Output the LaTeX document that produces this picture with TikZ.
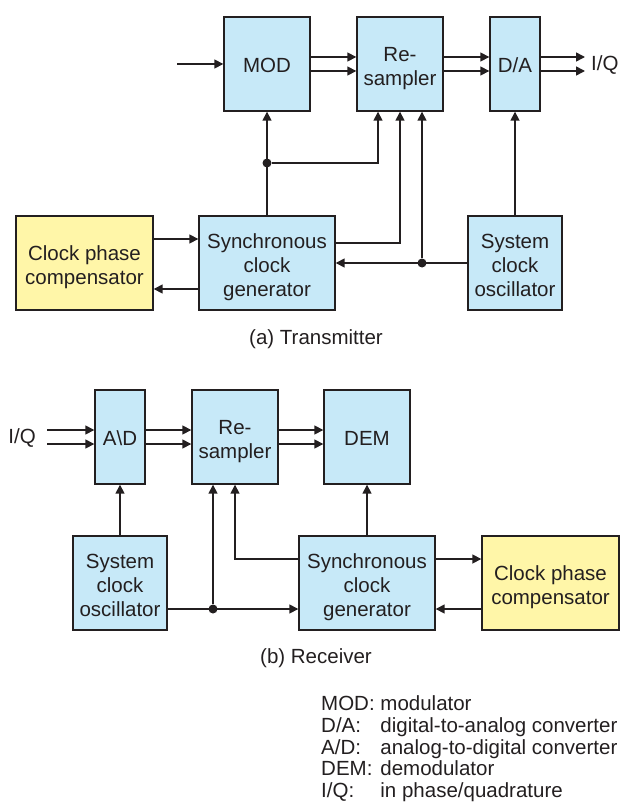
\documentclass[tikz,border=0pt]{standalone}
\usepackage{fontspec}
\setmainfont{Liberation Sans}
\usetikzlibrary{arrows.meta}
\definecolor{boxblue}{RGB}{199,233,248}
\definecolor{boxyellow}{RGB}{255,246,168}
\definecolor{ink}{RGB}{35,31,32}

\begin{document}
\begin{tikzpicture}[x=1pt,y=-1pt,
  every node/.style={font=\fontsize{20.5}{24}\selectfont, text=ink},
  blk/.style={draw=ink, line width=1.4pt, fill=boxblue, minimum height=94pt, inner sep=0pt, align=center},
  cpc/.style={blk, fill=boxyellow, minimum width=137pt},
  one/.style={text height=17.7pt, text depth=0pt},
  two/.style={text height=42.3pt, text depth=0pt},
  three/.style={text height=67.1pt, text depth=0pt},
  arr/.style={-{Triangle[length=9pt,width=9pt]}, line width=1.6pt, draw=ink},
  junc/.style={circle, fill=ink, inner sep=0pt, minimum size=9pt}]

\useasboundingbox (0,0) rectangle (621,802);

% (a) Transmitter: upper row
\node[blk, one, minimum width=86pt] (mod) at (267,64) {MOD};
\node[blk, two, minimum width=86pt] (rsT) at (400,64) {Re-\\sampler};
\node[blk, one, minimum width=50pt] (da) at (515,64) {D/A};

% lower row
\node[cpc, two] (cpcT) at (84.5,263) {Clock phase\\compensator};
\node[blk, three, minimum width=136pt] (scgT) at (267,263) {Synchronous\\clock\\generator};
\node[blk, three, minimum width=94pt] (oscT) at (515,263) {System\\clock\\oscillator};

% signal path
\coordinate (inT) at (177,64);
\coordinate (outT) at (585,64);
\draw[arr] (inT) -- (mod.west);
\foreach \s in {7,-7} {
  \draw[arr] ([yshift=\s pt]mod.east) -- ([yshift=\s pt]rsT.west);
  \draw[arr] ([yshift=\s pt]rsT.east) -- ([yshift=\s pt]da.west);
  \draw[arr] ([yshift=\s pt]da.east) -- ([yshift=\s pt]outT);
}
\node[anchor=west, inner sep=0pt] (iqT) at (591,65) {I/Q};

% clock lines
\node[junc] (jT1) at (267,163) {};
\node[junc] (jT2) at (422,263) {};
\draw[arr] (scgT) -- (mod);
\draw[arr] (jT1) -| ([xshift=-22pt]rsT.south);
\draw[arr] ([yshift=20pt]scgT.east) -| (rsT.south);
\draw[arr] (oscT) -- (scgT);
\draw[arr] (jT2) -- (jT2 |- rsT.south);
\draw[arr] (oscT) -- (da);
\draw[arr] ([yshift=24pt]cpcT.east) -- ([yshift=24pt]scgT.west);
\draw[arr] ([yshift=-26pt]scgT.west) -- ([yshift=-26pt]cpcT.east);

\node (capA) at (316,339) {(a) Transmitter};

% (b) Receiver: upper row
\node[blk, one, minimum width=50pt] (adc) at (120,437) {A\textbackslash D};
\node[blk, two, minimum width=86pt] (rsR) at (235,437) {Re-\\sampler};
\node[blk, one, minimum width=86pt] (dem) at (367,437) {DEM};

% lower row
\node[blk, three, minimum width=94pt] (oscR) at (120,583) {System\\clock\\oscillator};
\node[blk, three, minimum width=136pt] (scgR) at (367,583) {Synchronous\\clock\\generator};
\node[cpc, two] (cpcR) at (550.5,583) {Clock phase\\compensator};

% signal path
\node[anchor=east, inner sep=0pt] (iqR) at (36,438) {I/Q};
\coordinate (inR) at (47,437);
\foreach \s in {7,-7} {
  \draw[arr] ([yshift=\s pt]inR) -- ([yshift=\s pt]adc.west);
  \draw[arr] ([yshift=\s pt]adc.east) -- ([yshift=\s pt]rsR.west);
  \draw[arr] ([yshift=\s pt]rsR.east) -- ([yshift=\s pt]dem.west);
}

% clock lines
\node[junc] (jR) at (213,609) {};
\draw[arr] (oscR) -- (adc);
\draw[arr] (scgR) -- (dem);
\draw[arr] ([yshift=-26pt]oscR.east) -- ([yshift=-26pt]scgR.west);
\draw[arr] (jR) -- (jR |- rsR.south);
\draw[arr] ([yshift=24pt]scgR.west) -| (rsR.south);
\draw[arr] ([yshift=24pt]scgR.east) -- ([yshift=24pt]cpcR.west);
\draw[arr] ([yshift=-26pt]cpcR.west) -- ([yshift=-26pt]scgR.east);

\node (capB) at (316,658) {(b) Receiver};

% abbreviations
\node[anchor=north west, inner sep=0pt, font=\fontsize{20.5}{21.8}\selectfont] (legend) at (321,695) {%
  \begin{tabular}{@{}l@{\hspace{5.7pt}}l@{}}
    MOD: & modulator\\
    D/A: & digital-to-analog converter\\
    A/D: & analog-to-digital converter\\
    DEM: & demodulator\\
    I/Q: & in phase/quadrature
  \end{tabular}};

\end{tikzpicture}
\end{document}
